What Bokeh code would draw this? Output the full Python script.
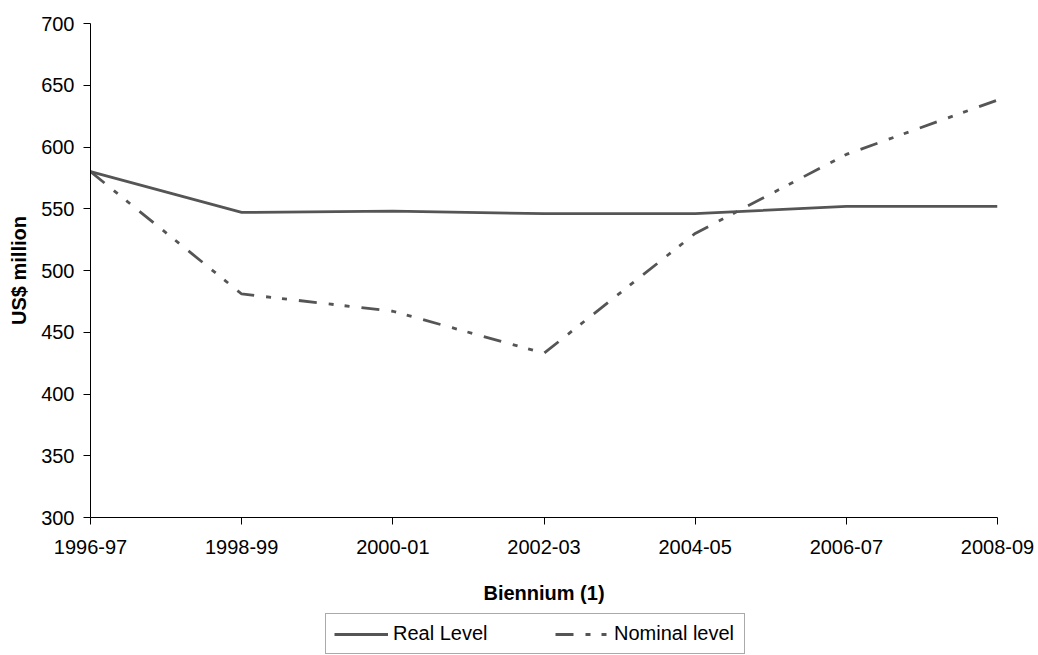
from bokeh.plotting import figure
from bokeh.layouts import column
from bokeh.models import Range1d, FixedTicker, Legend, LegendItem
from bokeh.embed import file_html
from bokeh.resources import INLINE

# Budget levels per biennium, US$ million
periods = ["1996-97", "1998-99", "2000-01", "2002-03", "2004-05", "2006-07", "2008-09"]
real_level = [580, 547, 548, 546, 546, 552, 552]
nominal_level = [580, 481, 467, 433, 530, 594, 638]
y_ticks = [300, 350, 400, 450, 500, 550, 600, 650, 700]

FONT = "Liberation Sans"
LINE = "#555555"
REAL_STYLE = dict(line_color=LINE, line_width=2.8)
NOMINAL_STYLE = dict(line_color=LINE, line_width=2.8, line_dash="18 12 5 11 5 12")

x = list(range(len(periods)))

# ---- main chart -------------------------------------------------------------
p = figure(
    width=1038, height=612,
    output_backend="svg", toolbar_location=None,
    x_range=Range1d(0, len(periods) - 1),
    y_range=Range1d(y_ticks[0], y_ticks[-1]),
    min_border_left=90, min_border_right=41,
    min_border_top=23, min_border_bottom=95,
)
p.outline_line_color = None
p.xgrid.visible = False
p.ygrid.visible = False
p.background_fill_color = "white"
p.border_fill_color = "white"

p.line(x, real_level, **REAL_STYLE)
p.line(x, nominal_level, **NOMINAL_STYLE)

# x axis: one tick per biennium
p.xaxis.ticker = FixedTicker(ticks=x)
p.xaxis.major_label_overrides = {i: s for i, s in enumerate(periods)}
p.xaxis.axis_label = "Biennium (1)"

# y axis
p.yaxis.ticker = FixedTicker(ticks=y_ticks)
p.yaxis.axis_label = "US$ million"

for ax in (p.xaxis, p.yaxis):
    ax.axis_line_color = "black"
    ax.axis_line_width = 1
    ax.major_tick_line_color = "black"
    ax.major_tick_out = 7
    ax.major_tick_in = 0
    ax.minor_tick_line_color = None
    ax.major_label_text_font = FONT
    ax.major_label_text_font_size = "20px"
    ax.major_label_text_color = "black"
    ax.axis_label_text_font = FONT
    ax.axis_label_text_font_size = "20px"
    ax.axis_label_text_font_style = "bold"
    ax.axis_label_text_color = "black"

p.xaxis.major_label_standoff = 15
p.xaxis.axis_label_standoff = 25
p.yaxis.major_label_standoff = 9
p.yaxis.axis_label_standoff = 8

# ---- legend strip under the chart ---------------------------------------------
# The series are repeated here only as legend sources; their values lie outside
# this strip's ranges, so nothing but the legend is drawn.
leg = figure(
    width=1038, height=43,
    output_backend="svg", toolbar_location=None,
    x_range=Range1d(0, 1), y_range=Range1d(0, 1),
    x_axis_location=None, y_axis_location=None,
    min_border=0,
)
leg.outline_line_color = None
leg.grid.visible = False
leg.background_fill_color = "white"
leg.border_fill_color = "white"

lr_real = leg.line(x, real_level, **REAL_STYLE)
lr_nom = leg.line(x, nominal_level, **NOMINAL_STYLE)

legend = Legend(
    items=[LegendItem(label="Real Level", renderers=[lr_real]),
           LegendItem(label="Nominal level", renderers=[lr_nom])],
    orientation="horizontal",
    location=(235, 1),
    padding=8, spacing=40, margin=0,
    glyph_width=54, glyph_height=20,
    label_width=122, label_height=20, label_standoff=5,
    label_text_font=FONT, label_text_font_size="20px", label_text_color="black",
    border_line_color="#555555", border_line_width=1,
    background_fill_color="white", background_fill_alpha=1.0,
)
leg.add_layout(legend)

layout = column(p, leg, spacing=0)

open("out.html", "w").write(file_html(layout, INLINE))
